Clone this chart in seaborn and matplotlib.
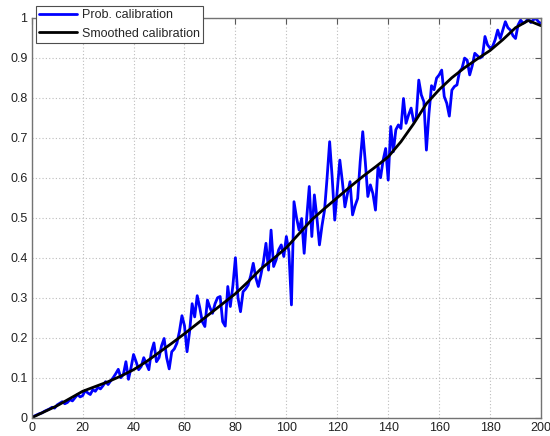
import numpy as np
import pandas as pd
import matplotlib
matplotlib.use("Agg")
import matplotlib.pyplot as plt
import seaborn as sns

# ---- data ----
x_prob = list(range(0, 201))
y_prob = [
    0.000, 0.004, 0.007, 0.010, 0.012, 0.016, 0.019, 0.022, 0.026, 0.024,
    0.032, 0.036, 0.040, 0.035, 0.038, 0.045, 0.042, 0.050, 0.058, 0.052,
    0.055, 0.068, 0.062, 0.058, 0.070, 0.066, 0.076, 0.072, 0.080, 0.090,
    0.083, 0.092, 0.100, 0.110, 0.121, 0.100, 0.108, 0.140, 0.096, 0.125,
    0.158, 0.140, 0.120, 0.128, 0.150, 0.135, 0.120, 0.165, 0.187, 0.140,
    0.150, 0.180, 0.198, 0.150, 0.122, 0.165, 0.172, 0.186, 0.215, 0.255,
    0.230, 0.165, 0.215, 0.285, 0.252, 0.305, 0.275, 0.240, 0.228, 0.294,
    0.275, 0.261, 0.285, 0.300, 0.303, 0.240, 0.229, 0.328, 0.278, 0.330,
    0.400, 0.300, 0.265, 0.315, 0.322, 0.332, 0.355, 0.386, 0.350, 0.328,
    0.357, 0.390, 0.436, 0.369, 0.469, 0.378, 0.395, 0.420, 0.432, 0.403,
    0.453, 0.415, 0.282, 0.540, 0.500, 0.469, 0.498, 0.411, 0.500, 0.578,
    0.453, 0.557, 0.500, 0.432, 0.480, 0.519, 0.600, 0.690, 0.600, 0.494,
    0.570, 0.644, 0.590, 0.527, 0.560, 0.590, 0.507, 0.530, 0.548, 0.640,
    0.715, 0.640, 0.553, 0.582, 0.560, 0.519, 0.628, 0.600, 0.644, 0.673,
    0.594, 0.728, 0.665, 0.720, 0.732, 0.723, 0.798, 0.736, 0.757, 0.774,
    0.740, 0.750, 0.844, 0.807, 0.790, 0.669, 0.760, 0.830, 0.820, 0.849,
    0.857, 0.869, 0.803, 0.786, 0.754, 0.819, 0.828, 0.832, 0.865, 0.874,
    0.899, 0.894, 0.857, 0.880, 0.911, 0.905, 0.899, 0.903, 0.953, 0.932,
    0.924, 0.928, 0.945, 0.969, 0.948, 0.969, 0.990, 0.975, 0.969, 0.955,
    0.948, 0.982, 0.994, 0.986, 0.990, 0.998, 0.988, 0.995, 0.998, 0.990,
    0.985,
]

x_smooth = [0, 5, 10, 15, 20, 25, 30, 35, 40, 45, 50, 55, 60, 65, 70, 75, 80,
            85, 90, 95, 100, 105, 110, 115, 120, 125, 130, 135, 140, 145, 150,
            155, 160, 165, 170, 175, 180, 185, 190, 195, 200]
y_smooth = [0.000, 0.015, 0.030, 0.048, 0.066, 0.078, 0.090, 0.104, 0.120, 0.140,
            0.163, 0.186, 0.210, 0.235, 0.260, 0.285, 0.310, 0.340, 0.372, 0.398,
            0.425, 0.460, 0.495, 0.523, 0.550, 0.577, 0.603, 0.627, 0.652, 0.690,
            0.735, 0.785, 0.820, 0.850, 0.875, 0.897, 0.918, 0.945, 0.975, 0.993,
            0.980]

x_ticks = [0, 20, 40, 60, 80, 100, 120, 140, 160, 180, 200]
y_ticks = [0, 0.1, 0.2, 0.3, 0.4, 0.5, 0.6, 0.7, 0.8, 0.9, 1]
y_tick_labels = ["0", "0.1", "0.2", "0.3", "0.4", "0.5", "0.6", "0.7", "0.8", "0.9", "1"]

label_prob = "Prob. calibration"
label_smooth = "Smoothed calibration"

# ---- plotting ----
sns.set_style("white")
plt.rcParams["font.family"] = ["Liberation Sans", "DejaVu Sans"]

fig = plt.figure(figsize=(5.5, 4.36), dpi=100)
ax = fig.add_axes([31.7 / 550, 18.3 / 436, (541 - 31.7) / 550, 400 / 436])

df_prob = pd.DataFrame({"x": x_prob, "y": y_prob})
df_smooth = pd.DataFrame({"x": x_smooth, "y": y_smooth})

sns.lineplot(data=df_prob, x="x", y="y", ax=ax, color="#0000ff", lw=2.0,
             label=label_prob, estimator=None, sort=False)
sns.lineplot(data=df_smooth, x="x", y="y", ax=ax, color="black", lw=2.0,
             label=label_smooth, estimator=None, sort=False)

ax.set_xlim(0, 200)
ax.set_ylim(0, 1)
ax.set_xticks(x_ticks)
ax.set_xticklabels([str(t) for t in x_ticks])
ax.set_yticks(y_ticks)
ax.set_yticklabels(y_tick_labels)
ax.set_xlabel("")
ax.set_ylabel("")

ax.grid(True, linestyle=(0, (1, 2)), color="#bdbdbd", lw=0.8)
ax.tick_params(direction="in", length=4, width=0.8, colors="0.35",
               labelcolor="#222222", labelsize=9, top=True, right=True,
               pad=3)
for sp in ax.spines.values():
    sp.set_color("0.45")
    sp.set_linewidth(1.0)
    sp.set_visible(True)

leg = ax.legend(loc="lower left", bbox_to_anchor=(0.0084, 0.937),
                borderaxespad=0, fontsize=9, frameon=True, fancybox=False,
                framealpha=1, edgecolor="0.3", handlelength=3.0,
                borderpad=0.25, labelspacing=0.55, handletextpad=0.4)
leg.get_frame().set_linewidth(0.8)
leg.set_zorder(10)

fig.savefig("out.png", dpi=100)
